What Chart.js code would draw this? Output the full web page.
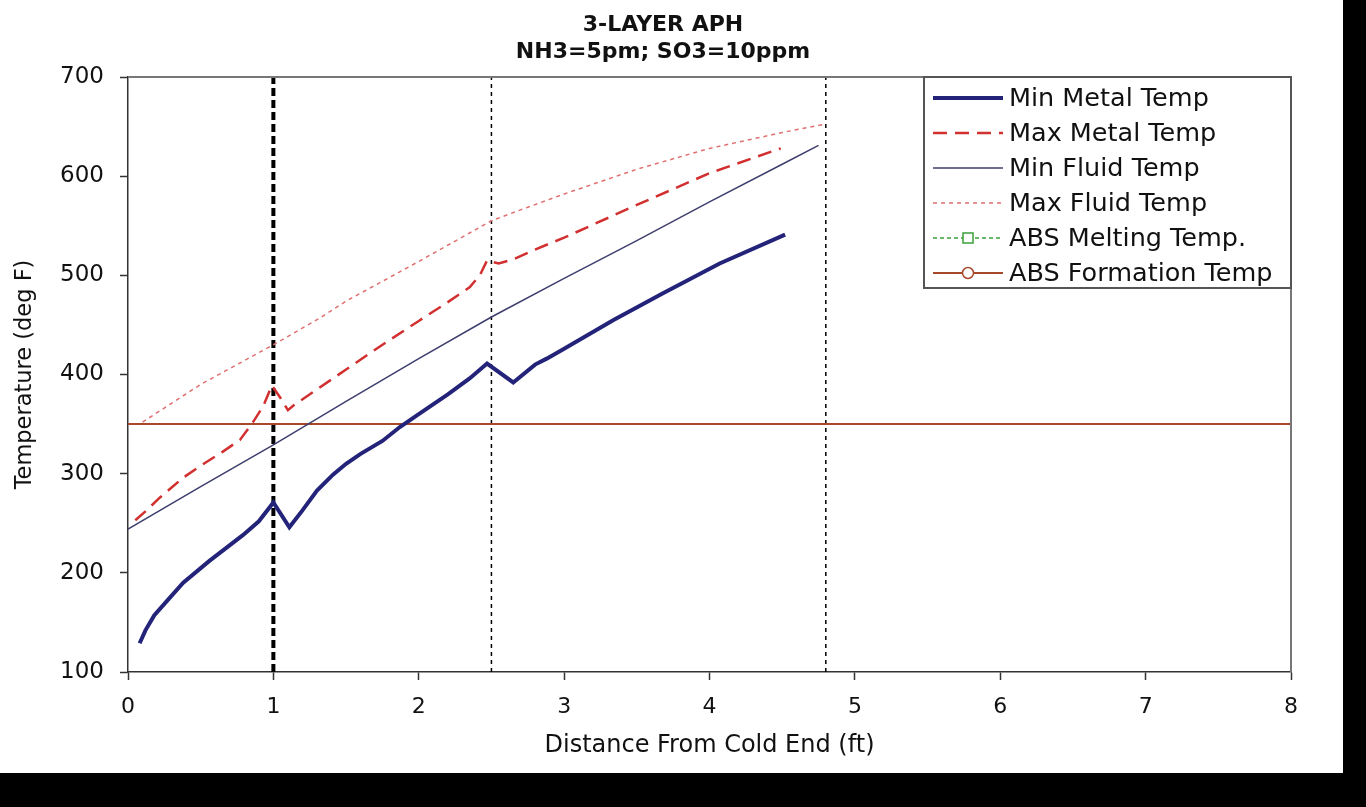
<!DOCTYPE html>
<html>
<head>
<meta charset="utf-8">
<script src="https://cdn.jsdelivr.net/npm/chart.js@4.4.1/dist/chart.umd.min.js"></script>
<style>
  html, body { margin: 0; padding: 0; background: #000; }
  #wrap { position: absolute; left: 0; top: 0; width: 1343px; height: 773px; background: #fff; }
</style>
</head>
<body>
<div id="wrap"><canvas id="c" width="1343" height="773"></canvas></div>
<script>
// ---- Data ----
const titleLines = ['3-LAYER APH', 'NH3=5pm; SO3=10ppm'];
const xTitle = 'Distance From Cold End (ft)';
const yTitle = 'Temperature (deg F)';

const minMetalX = [0.08, 0.12, 0.18, 0.27, 0.38, 0.56, 0.79, 0.9, 1.0, 1.11, 1.2, 1.3, 1.41, 1.5, 1.6, 1.75, 1.87, 2.0, 2.2, 2.35, 2.47, 2.65, 2.8, 2.88, 3.0, 3.34, 3.68, 4.07, 4.52];
const minMetalY = [129, 142, 157, 172, 190, 212, 238, 252, 271, 246, 263, 283, 299, 310, 320, 333, 347, 360, 380, 396, 411, 392, 410, 416, 426, 455, 482, 512, 541];

const maxMetalX = [0.05, 0.12, 0.22, 0.3, 0.38, 0.5, 0.65, 0.77, 0.86, 0.93, 0.99, 1.05, 1.10, 1.14, 1.3, 1.5, 1.73, 2.0, 2.2, 2.35, 2.42, 2.47, 2.55, 2.65, 2.8, 3.0, 3.5, 4.0, 4.49];
const maxMetalY = [253, 262, 276, 286, 296, 308, 322, 334, 352, 368, 389, 376, 364, 369, 385, 405, 428, 454, 473, 488, 500, 515, 512, 516, 526, 538, 571, 603, 628];

const minFluidX = [0, 0.5, 1, 1.5, 2, 2.5, 3, 3.5, 4, 4.5, 4.75];
const minFluidY = [244, 287, 329, 373, 416, 458, 497, 535, 574, 612, 631];

const maxFluidX = [0.1, 0.5, 1, 1.32, 1.5, 2, 2.5, 2.7, 3, 3.5, 4, 4.5, 4.78];
const maxFluidY = [352, 390, 430, 457, 474, 514, 555, 566, 582, 607, 628, 644, 652];

const absMeltX = [];
const absMeltY = [];

const absFormX = [0, 8];
const absFormY = [350, 350];

const vLineX = [1, 2.5, 4.8];
const vLineY = [100, 700];

const xTicks = [0, 1, 2, 3, 4, 5, 6, 7, 8];
const yTicks = [100, 200, 300, 400, 500, 600, 700];

function pts(xs, ys) { return xs.map((x, i) => ({ x: x, y: ys[i] })); }
function vline(x) { return vLineY.map(y => ({ x: x, y: y })); }

const FONT = 'DejaVu Sans';

const datasets = [
  { label: 'Min Metal Temp', data: pts(minMetalX, minMetalY), borderColor: '#23237a', borderWidth: 4, legendLine: true },
  { label: 'Max Metal Temp', data: pts(maxMetalX, maxMetalY), borderColor: '#d23030', borderWidth: 2.5, borderDash: [14, 8], legendLine: true },
  { label: 'Min Fluid Temp', data: pts(minFluidX, minFluidY), borderColor: '#3e3e6e', borderWidth: 1.5, legendLine: true },
  { label: 'Max Fluid Temp', data: pts(maxFluidX, maxFluidY), borderColor: '#e07070', borderWidth: 1.5, borderDash: [4, 4], legendLine: true },
  { label: 'ABS Melting Temp.', data: pts(absMeltX, absMeltY), borderColor: '#3aa03a', borderWidth: 1.5, borderDash: [4, 3], legendLine: true, legendMarker: 'rect' },
  { label: 'ABS Formation Temp', data: pts(absFormX, absFormY), borderColor: '#a8482a', borderWidth: 2, legendLine: true, legendMarker: 'circle' },
  { label: 'v1', data: vline(vLineX[0]), borderColor: '#000', borderWidth: 4, borderDash: [8, 4] },
  { label: 'v2', data: vline(vLineX[1]), borderColor: '#000', borderWidth: 1.5, borderDash: [4, 4] },
  { label: 'v3', data: vline(vLineX[2]), borderColor: '#000', borderWidth: 1.5, borderDash: [4, 4] }
];
datasets.forEach(d => { d.showLine = true; d.pointRadius = 0; d.fill = false; d.tension = 0; });

const decor = {
  id: 'decor',
  beforeDraw(chart) {
    const ctx = chart.ctx;
    ctx.save();
    ctx.fillStyle = '#fff';
    ctx.fillRect(0, 0, chart.width, chart.height);
    ctx.restore();
  },
  afterDraw(chart) {
    const ctx = chart.ctx;
    const a = chart.chartArea;
    ctx.save();
    // plot area border (top & right)
    ctx.strokeStyle = '#777';
    ctx.lineWidth = 2;
    ctx.beginPath();
    ctx.moveTo(a.left, a.top);
    ctx.lineTo(a.right, a.top);
    ctx.lineTo(a.right, a.bottom);
    ctx.stroke();

    // title
    ctx.fillStyle = '#111';
    ctx.font = 'bold 22px "' + FONT + '"';
    ctx.textAlign = 'center';
    ctx.textBaseline = 'middle';
    titleLines.forEach((t, i) => ctx.fillText(t, 663, 25 + i * 27));

    // legend
    const lx = 924, ly = a.top, lw = a.right - 924, lh = 211;
    ctx.fillStyle = '#fff';
    ctx.fillRect(lx, ly, lw, lh);
    ctx.strokeStyle = '#555';
    ctx.lineWidth = 2;
    ctx.strokeRect(lx, ly, lw, lh);
    const items = chart.data.datasets.filter(d => d.legendLine);
    items.forEach((d, i) => {
      const y = ly + 21 + i * 35;
      ctx.save();
      ctx.strokeStyle = d.borderColor;
      ctx.lineWidth = d.borderWidth;
      ctx.setLineDash(d.borderDash || []);
      ctx.beginPath();
      ctx.moveTo(933, y);
      ctx.lineTo(1003, y);
      ctx.stroke();
      ctx.setLineDash([]);
      ctx.lineWidth = 1.5;
      if (d.legendMarker === 'rect') {
        ctx.fillStyle = '#fff';
        ctx.fillRect(963, y - 5, 10, 10);
        ctx.strokeRect(963, y - 5, 10, 10);
      } else if (d.legendMarker === 'circle') {
        ctx.fillStyle = '#fff';
        ctx.beginPath();
        ctx.arc(968, y, 5.5, 0, Math.PI * 2);
        ctx.fill();
        ctx.stroke();
      }
      ctx.restore();
      ctx.fillStyle = '#111';
      ctx.font = '25.5px "' + FONT + '"';
      ctx.textAlign = 'left';
      ctx.textBaseline = 'middle';
      ctx.fillText(d.label, 1009, y + 1);
    });
    ctx.restore();
  }
};

new Chart(document.getElementById('c'), {
  type: 'scatter',
  data: { datasets: datasets },
  plugins: [decor],
  options: {
    responsive: false,
    animation: false,
    layout: { padding: { left: 0, right: 52, top: 77, bottom: 0 } },
    plugins: { legend: { display: false }, title: { display: false }, tooltip: { enabled: false } },
    scales: {
      x: {
        type: 'linear', min: 0, max: 8,
        afterBuildTicks: s => { s.ticks = xTicks.map(v => ({ value: v })); },
        afterFit: s => { s.height = 101; },
        grid: { drawOnChartArea: false, drawTicks: true, tickLength: 8, tickColor: '#333', tickWidth: 1.5 },
        border: { display: true, color: '#333', width: 1.5 },
        ticks: { color: '#111', font: { family: FONT, size: 22 }, padding: 14 },
        title: { display: true, text: xTitle, color: '#111', font: { family: FONT, size: 24 }, padding: { top: 0, bottom: 13 } }
      },
      y: {
        type: 'linear', min: 100, max: 700,
        afterBuildTicks: s => { s.ticks = yTicks.map(v => ({ value: v })); },
        afterFit: s => { s.width = 128; },
        grid: { drawOnChartArea: false, drawTicks: true, tickLength: 8, tickColor: '#333', tickWidth: 1.5 },
        border: { display: true, color: '#333', width: 1.5 },
        ticks: { color: '#111', font: { family: FONT, size: 23 }, padding: 16 },
        title: { display: true, text: yTitle, color: '#111', font: { family: FONT, size: 22.5 }, padding: { top: 12, bottom: 0 } }
      }
    }
  }
});
</script>
</body>
</html>
